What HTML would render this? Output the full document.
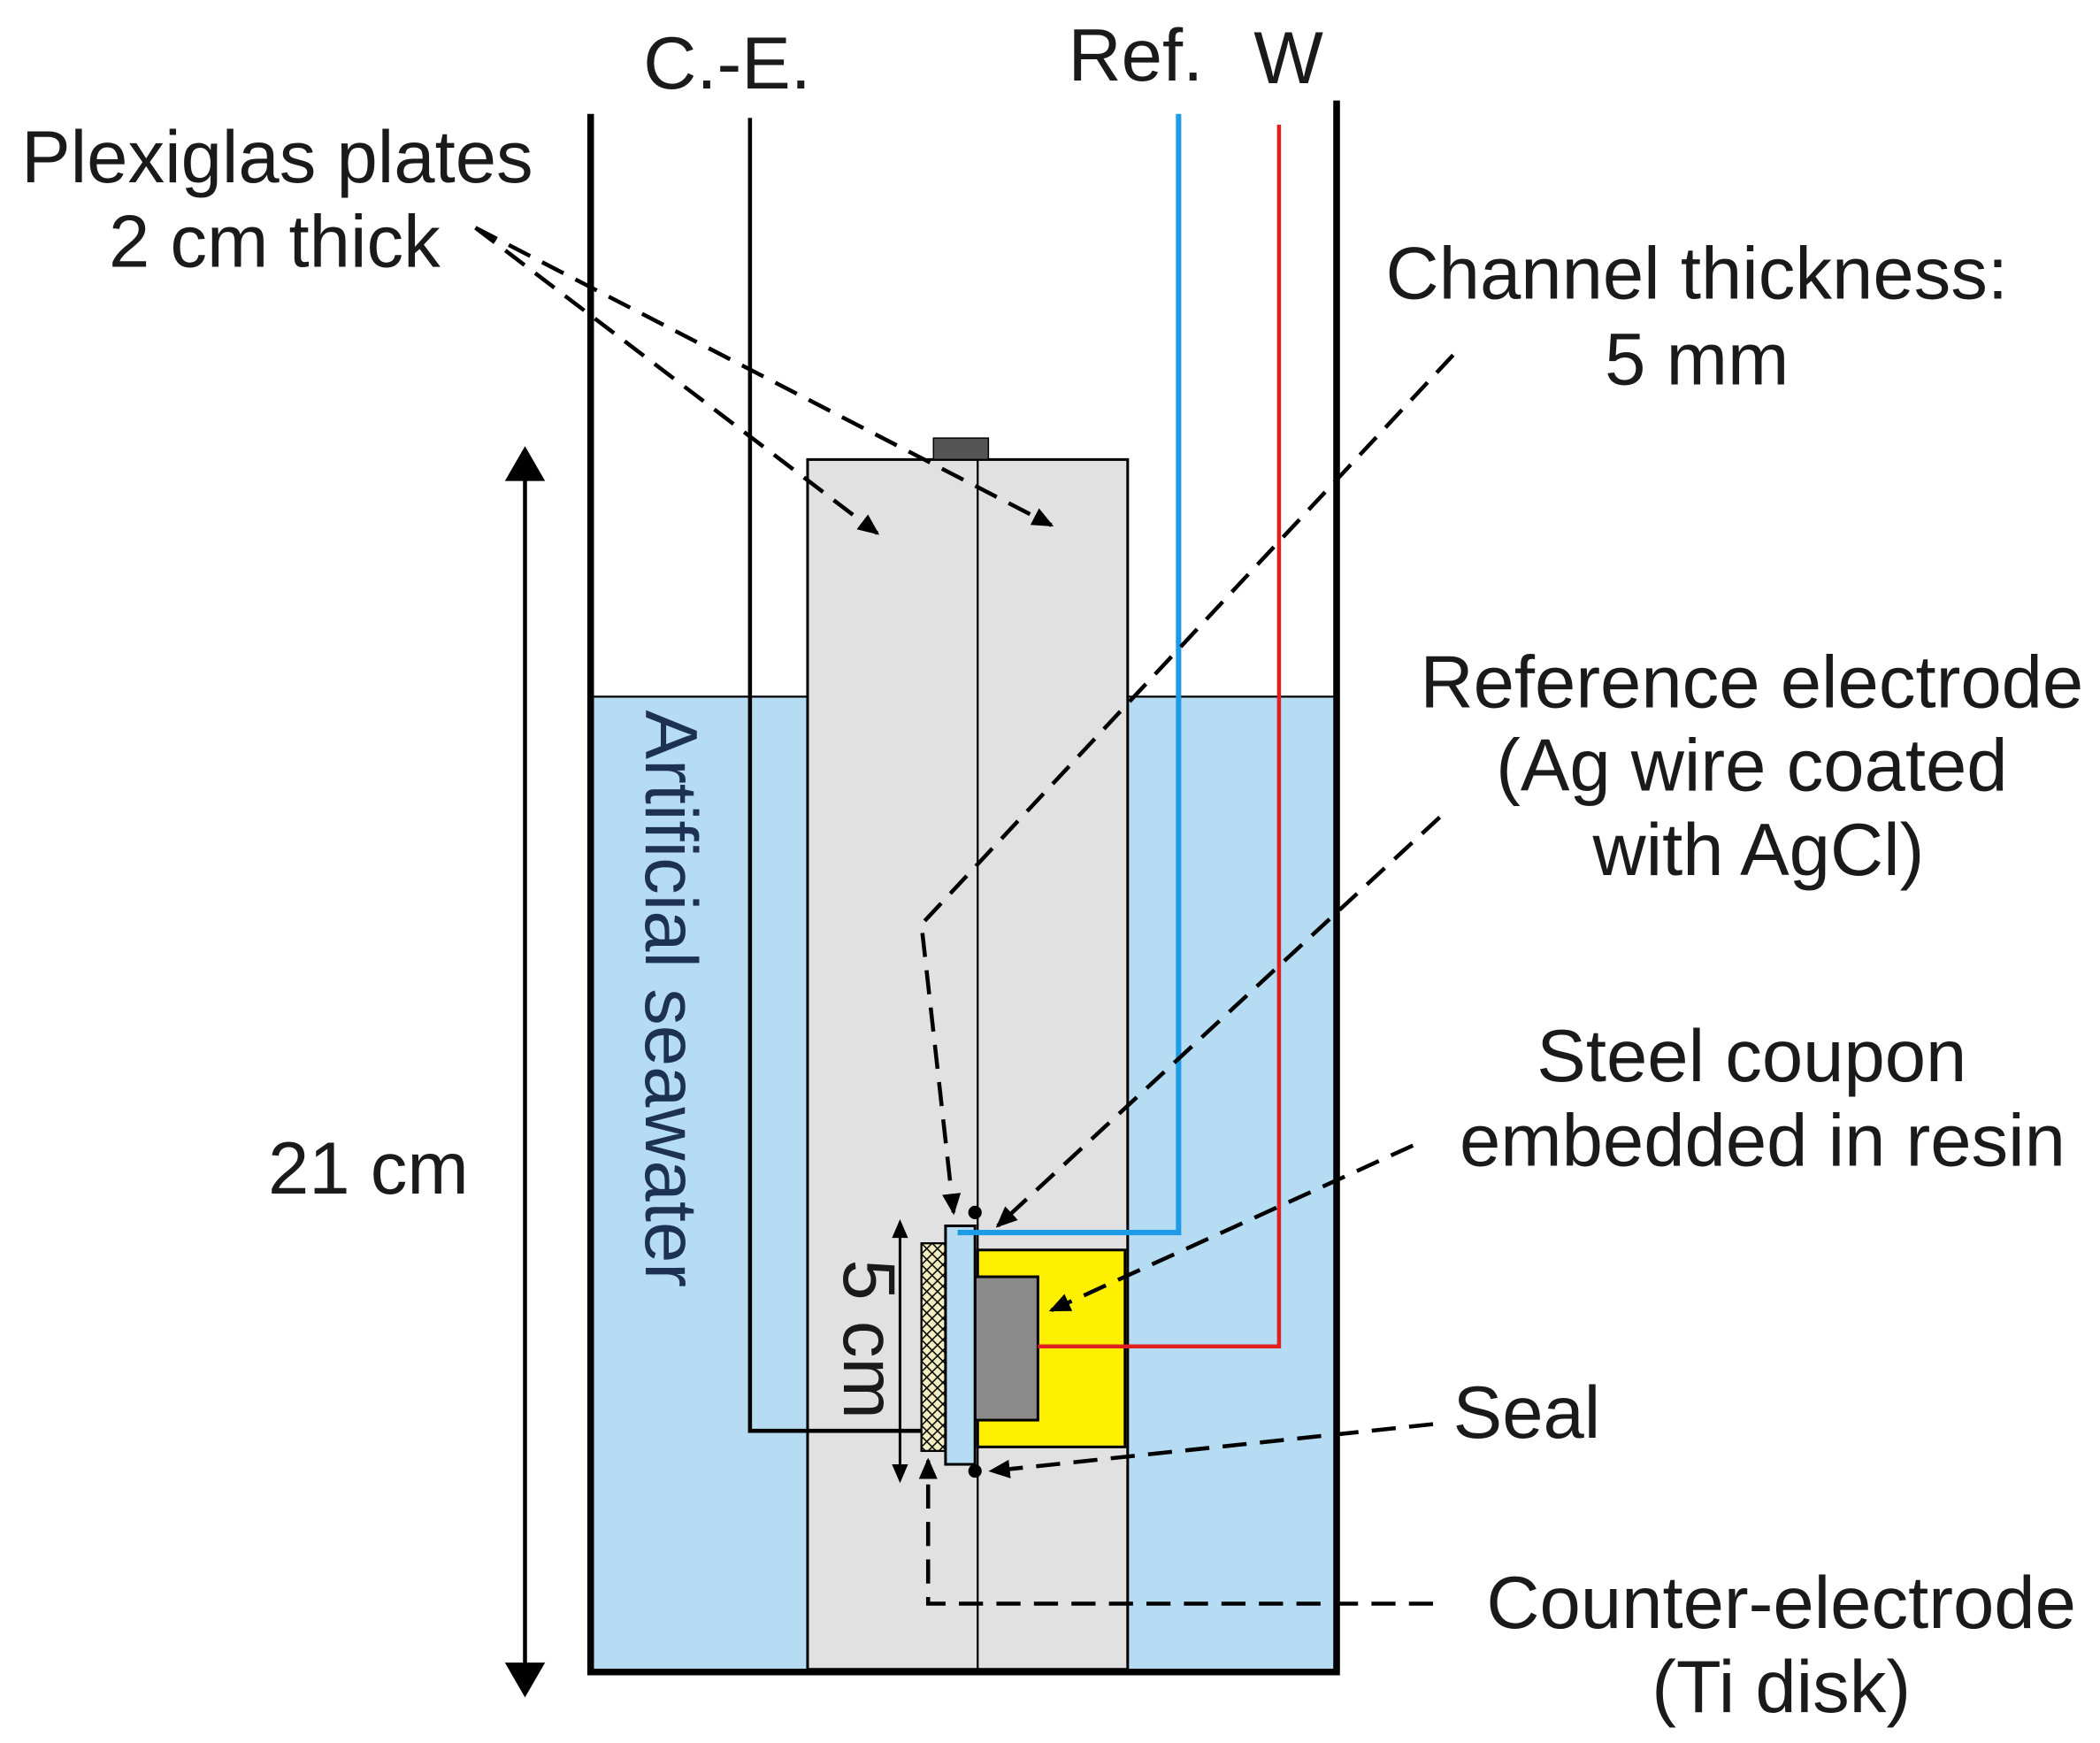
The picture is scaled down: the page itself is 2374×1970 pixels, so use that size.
<!DOCTYPE html>
<html><head><meta charset="utf-8"><style>html,body{margin:0;padding:0;background:#fff}svg{display:block}</style></head>
<body>
<svg width="2374" height="1970" viewBox="0 0 1568 1301" preserveAspectRatio="none" xmlns="http://www.w3.org/2000/svg" font-family="Liberation Sans, sans-serif">
<defs>
<marker id="ah" markerWidth="16" markerHeight="14" refX="14" refY="7" orient="auto" markerUnits="userSpaceOnUse" viewBox="0 0 16 14"><path d="M0,0 L16,7 L0,14 z" fill="#000"/></marker>
<pattern id="hatch" width="8" height="8" patternUnits="userSpaceOnUse"><rect width="8" height="8" fill="#f3eec0"/><path d="M0,0 L8,8 M8,0 L0,8" stroke="#000" stroke-width="1"/></pattern>
</defs>
<rect x="441" y="520" width="557" height="726" fill="#b5dcf3"/>
<line x1="441" y1="520" x2="603" y2="520" stroke="#000" stroke-width="1.5"/>
<line x1="842" y1="520" x2="998" y2="520" stroke="#000" stroke-width="1.5"/>
<rect x="603" y="343" width="239" height="903" fill="#e1e1e1" stroke="#000" stroke-width="2"/>
<line x1="730" y1="343" x2="730" y2="1246" stroke="#000" stroke-width="1.5"/>
<rect x="697" y="327" width="41" height="16" fill="#555" stroke="#000" stroke-width="1"/>
<path d="M441,85 V1248 H998 V75" fill="none" stroke="#000" stroke-width="5"/>
<path d="M560,88 V1068 H690" fill="none" stroke="#000" stroke-width="3"/>
<rect x="730" y="933" width="110" height="147" fill="#fff000" stroke="#000" stroke-width="2"/>
<rect x="728" y="953" width="47" height="107" fill="#8a8a8a" stroke="#000" stroke-width="2"/>
<rect x="688" y="928" width="18" height="155" fill="url(#hatch)" stroke="#000" stroke-width="1.5"/>
<rect x="706" y="915" width="22" height="178" fill="#b5dcf3" stroke="#000" stroke-width="2"/>
<path d="M880,85 V920 H715" fill="none" stroke="#1e9be6" stroke-width="4"/>
<path d="M955,93 V1005 H775" fill="none" stroke="#e02020" stroke-width="3"/>
<circle cx="728" cy="905" r="5"/><circle cx="728" cy="1098" r="5"/>
<line x1="672" y1="920" x2="672" y2="1097" stroke="#000" stroke-width="2"/>
<path d="M672,910 l-6,14 h12 z M672,1107 l-6,-14 h12 z"/>
<line x1="392" y1="350" x2="392" y2="1250" stroke="#000" stroke-width="3"/>
<path d="M392,333 l-15,26 h30 z M392,1267 l-15,-26 h30 z"/>
<g fill="none" stroke="#000" stroke-width="3" stroke-dasharray="18,10">
<path d="M355,170 L655,398" marker-end="url(#ah)"/>
<path d="M355,170 L785,392" marker-end="url(#ah)"/>
<path d="M1085,265 L688,690 L712,905" marker-end="url(#ah)"/>
<path d="M1075,610 L745,915" marker-end="url(#ah)"/>
<path d="M1055,855 L785,978" marker-end="url(#ah)"/>
<path d="M1070,1063 L740,1098" marker-end="url(#ah)"/>
<path d="M1070,1197 L693,1197 L693,1090" marker-end="url(#ah)"/>
</g>
<g font-size="55" fill="#1a1a1a">
<text x="543" y="66" text-anchor="middle">C.-E.</text>
<text x="848" y="60" text-anchor="middle">Ref.</text>
<text x="962" y="62" text-anchor="middle">W</text>
<text x="207" y="136" text-anchor="middle">Plexiglas plates</text>
<text x="205" y="199" text-anchor="middle">2 cm thick</text>
<text x="1267" y="223" text-anchor="middle">Channel thickness:</text>
<text x="1267" y="287" text-anchor="middle">5 mm</text>
<text x="1308" y="528" text-anchor="middle">Reference electrode</text>
<text x="1308" y="590" text-anchor="middle">(Ag wire coated</text>
<text x="1313" y="653" text-anchor="middle">with AgCl)</text>
<text x="1308" y="807" text-anchor="middle">Steel coupon</text>
<text x="1316" y="870" text-anchor="middle">embedded in resin</text>
<text x="1140" y="1073" text-anchor="middle">Seal</text>
<text x="1330" y="1215" text-anchor="middle">Counter-electrode</text>
<text x="1330" y="1278" text-anchor="middle">(Ti disk)</text>
<text x="275" y="891" text-anchor="middle">21 cm</text>
<text transform="translate(482,530) rotate(90)" fill="#1d3152">Artificial seawater</text>
<text transform="translate(630,940) rotate(90)">5 cm</text>
</g>
</svg>
</body></html>
